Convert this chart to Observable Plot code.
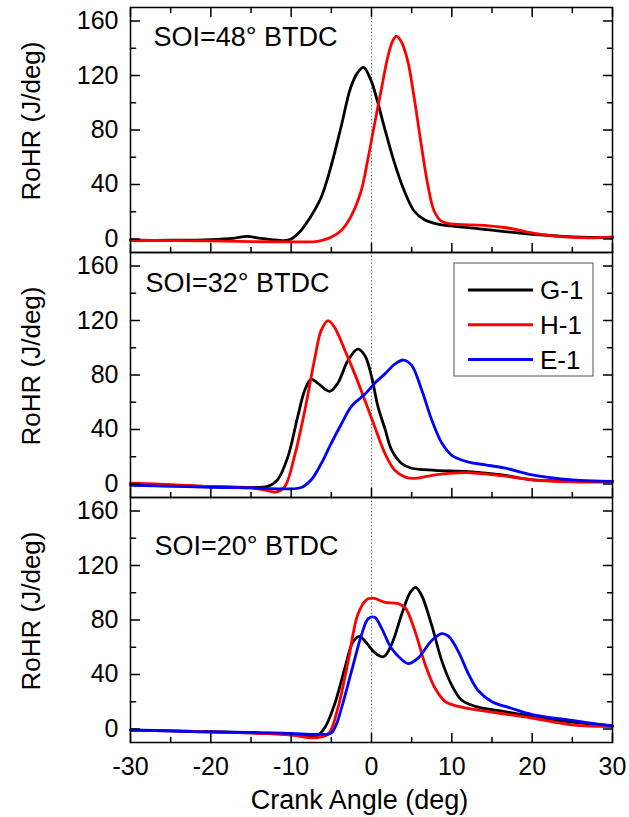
<!DOCTYPE html>
<html><head><meta charset="utf-8">
<script src="https://cdn.jsdelivr.net/npm/d3@7"></script>
<script src="https://cdn.jsdelivr.net/npm/@observablehq/plot@0.6"></script>
<style>body{margin:0;background:#fff}</style>
</head><body><div id="chart"></div>
<script>
// ---- data ----
const panelKeys = ["48", "32", "20"];
const annotations = ["SOI=48° BTDC", "SOI=32° BTDC", "SOI=20° BTDC"];
const seriesNames = ["G-1", "H-1", "E-1"];
const seriesColors = ["#000000", "#ff0000", "#0000ff"];
const xMajor = [-30, -20, -10, 0, 10, 20, 30];
const xMinor = [-25, -15, -5, 5, 15, 25];
const yMajor = [0, 40, 80, 120, 160];
const yMinor = [20, 60, 100, 140];
const xTickLabels = ["-30", "-20", "-10", "0", "10", "20", "30"];
const yTickLabels = ["0", "40", "80", "120", "160"];

const soi48_G1 = [[-30,-1],[-25,-1],[-20,-0.5],[-17,0.6],[-15.5,1.8],[-14,0.6],[-12,-0.8],[-10.9,-1.2],[-10,0],[-8.8,6],[-7.6,16],[-6.3,30],[-5.1,52],[-3.8,82],[-2.6,111],[-1.75,122],[-1,126],[-0.1,117],[0.75,101],[1.6,82],[2.8,57],[4.1,35],[5.3,20.5],[6.6,14],[8.25,10.8],[9.9,9.5],[14,7],[20,3.4],[25,1.5],[30,1]];
const soi48_H1 = [[-30,-1],[-20,-1.5],[-15,-2],[-10,-2.2],[-7,-2],[-6,-0.8],[-5.1,1],[-3.8,6],[-2.6,16],[-1.3,35],[-0.5,57],[0.3,82],[1.2,109],[2,133],[2.6,145],[3.1,149],[3.7,145],[4.5,131],[5.3,104],[6.2,69],[7,40],[7.8,20.5],[8.7,13],[9.9,11],[14,10],[17,8],[20.3,4],[24,1.5],[27,0.8],[30,1.5]];
const soi32_G1 = [[-30,0],[-25,-1],[-20,-2],[-15,-2.5],[-13,-2],[-11.7,3],[-10.4,20],[-9.2,49],[-8.3,69],[-7.5,77],[-6.7,74],[-5.2,68],[-4.2,74],[-2.9,91],[-1.7,99],[-0.8,94],[0,79],[0.8,57],[1.7,40],[2.5,25],[3.75,15],[5,11.5],[7.9,10],[12.1,9],[16.25,6.6],[20,3],[25,2.2],[30,1.7]];
const soi32_H1 = [[-30,0.5],[-25,-0.5],[-20,-2],[-15,-3],[-13.3,-4.4],[-11.9,-6],[-10.8,-2],[-9.6,20],[-8.3,54],[-7.1,91],[-6.25,113],[-5.4,120],[-4.6,115],[-3.3,98],[-2.1,81],[-0.8,61],[0.4,42],[1.7,22],[2.9,10],[4.2,5],[5.4,4],[7.9,6.6],[11.7,8.3],[16.25,6],[20,3],[25,1.5],[30,1.5]];
const soi32_E1 = [[-30,-1],[-25,-1.8],[-20,-2.5],[-15,-3],[-10.8,-3.7],[-8.75,-2.7],[-7.5,3],[-6.25,15],[-5,30],[-3.75,44],[-2.5,57],[-0.8,66],[0.4,74],[1.7,81],[2.9,88],[4,91],[5,87],[6.25,69],[7.5,47],[8.75,30],[10,21],[12.1,16],[14.2,14],[16.7,11.5],[20,6.6],[25,2.9],[30,1.8]];
const soi20_G1 = [[-30,-1],[-25,-1.5],[-20,-2],[-15,-3],[-10,-4],[-8,-5],[-6.9,-5.4],[-5.8,1],[-4.6,18],[-3.3,45],[-2.3,64],[-1.5,68],[-0.6,63],[0.4,56],[1.5,53],[2.5,62],[3.75,84],[4.8,100],[5.5,104],[6.25,98],[7.5,76],[8.75,50],[10,32],[11.25,21],[12.9,16.6],[16.25,13],[20,9.3],[25,5],[30,2.4]];
const soi20_H1 = [[-30,-1],[-25,-1.5],[-20,-2.2],[-15,-3],[-10,-4.5],[-7.1,-6.6],[-5.4,-4],[-4.2,15],[-2.9,50],[-1.7,84],[-0.6,95],[0.2,96],[1.7,93],[3.3,92],[4.2,89],[5.4,72],[6.7,47],[7.9,30],[9.2,20],[10.8,16.6],[14.2,13],[20,8],[25,3],[30,1.7]];
const soi20_E1 = [[-30,-0.7],[-25,-1.5],[-20,-2.3],[-15,-2.5],[-10,-3.4],[-6.7,-4.1],[-5,-3],[-4.4,3],[-3.75,15],[-2.5,42],[-1.25,69],[-0.4,81],[0.4,82],[1.25,74],[2.5,59],[3.75,51],[4.6,48],[5.8,52],[7.5,65],[8.75,70],[9.6,68],[10.8,57],[12.1,40],[13.3,28],[15,20],[17.5,15],[20,10.5],[25,6.2],[30,2]];

const panelSeries = {
  "48": [soi48_G1, soi48_H1, null],
  "32": [soi32_G1, soi32_H1, soi32_E1],
  "20": [soi20_G1, soi20_H1, soi20_E1]
};

const rows = [];
for (const p of panelKeys) {
  panelSeries[p].forEach((arr, i) => {
    if (!arr) return;
    for (const [x, y] of arr) rows.push({panel: p, series: seriesNames[i], x, y});
  });
}

const tickShape = {draw(context, l) { context.moveTo(0, 0); context.lineTo(0, -l); }};
const tickStyle = {anchor: "start", shape: tickShape, stroke: "black", strokeWidth: 1.5};

const annOffsets = [[23, 19], [15, 20], [24, 38]];

const marks = [
  Plot.ruleX([0], {stroke: "#777", strokeWidth: 1, strokeDasharray: "1.5,2"}),
  ...seriesNames.map(s => Plot.line(rows.filter(r => r.series === s), {
    x: "x", y: "y", fy: "panel", stroke: "series", curve: "catmull-rom", strokeWidth: 2.8
  })),
  Plot.frame({stroke: "black", strokeWidth: 1.5}),
  // inward ticks
  Plot.vector(yMajor, {y: d => d, frameAnchor: "left", rotate: 90, length: 9, ...tickStyle}),
  Plot.vector(yMinor, {y: d => d, frameAnchor: "left", rotate: 90, length: 5, ...tickStyle}),
  Plot.vector(yMajor, {y: d => d, frameAnchor: "right", rotate: -90, length: 9, ...tickStyle}),
  Plot.vector(yMinor, {y: d => d, frameAnchor: "right", rotate: -90, length: 5, ...tickStyle}),
  Plot.vector(xMajor, {x: d => d, frameAnchor: "bottom", rotate: 0, length: 9, ...tickStyle}),
  Plot.vector(xMinor, {x: d => d, frameAnchor: "bottom", rotate: 0, length: 5, ...tickStyle}),
  Plot.vector(xMajor, {x: d => d, fy: () => panelKeys[0], frameAnchor: "top", rotate: 180, length: 9, ...tickStyle}),
  Plot.vector(xMinor, {x: d => d, fy: () => panelKeys[0], frameAnchor: "top", rotate: 180, length: 5, ...tickStyle}),
  // tick labels
  Plot.axisY(yMajor, {tickSize: 0, tickPadding: 12, fontSize: 25, label: null,
    tickFormat: d => yTickLabels[yMajor.indexOf(d)]}),
  Plot.axisX(xMajor, {tickSize: 0, tickPadding: 15, fontSize: 25, label: null,
    tickFormat: d => xTickLabels[xMajor.indexOf(d)]}),
  // axis titles
  Plot.text(["RoHR (J/deg)"], {text: d => d, frameAnchor: "left", rotate: -90, dx: -99, dy: -9,
    fontSize: 26, textAnchor: "middle", lineAnchor: "middle", fill: "black"}),
  Plot.text(["Crank Angle (deg)"], {text: d => d, fy: () => panelKeys[2], frameAnchor: "bottom",
    dx: -12, dy: 58, fontSize: 27, textAnchor: "middle", lineAnchor: "middle", fill: "black"}),
  // panel annotations
  ...annotations.map((a, i) => Plot.text([a], {text: d => d, fy: () => panelKeys[i],
    frameAnchor: "top-left", textAnchor: "start", lineAnchor: "top",
    dx: annOffsets[i][0], dy: annOffsets[i][1], fontSize: 27, fill: "black"}))
];

const plot = Plot.plot({
  width: 629,
  height: 817,
  marginTop: 7,
  marginBottom: 75,
  marginLeft: 130,
  marginRight: 17,
  style: {fontFamily: "'Liberation Sans', Arial, sans-serif", fontSize: "25px", color: "black", background: "white"},
  x: {domain: [-30, 30]},
  y: {domain: [-10, 170]},
  fy: {domain: panelKeys, padding: 0, axis: null},
  color: {domain: seriesNames, range: seriesColors},
  marks
});

document.getElementById("chart").appendChild(plot);

// legend inside the middle panel
const svg = d3.select(plot);
const lg = svg.append("g").attr("font-family", "'Liberation Sans', Arial, sans-serif")
  .attr("text-anchor", "start");
lg.append("rect").attr("x", 454).attr("y", 263).attr("width", 139).attr("height", 113)
  .attr("fill", "white").attr("stroke", "#555").attr("stroke-width", 1);
seriesNames.forEach((s, i) => {
  const cy = 290 + i * 34.7;
  lg.append("line").attr("x1", 468).attr("x2", 533).attr("y1", cy).attr("y2", cy)
    .attr("stroke", seriesColors[i]).attr("stroke-width", 3);
  lg.append("text").attr("x", 540).attr("y", cy).attr("dy", "0.35em")
    .attr("text-anchor", "start").attr("font-size", 26).attr("fill", "black").text(s);
});
</script></body></html>
